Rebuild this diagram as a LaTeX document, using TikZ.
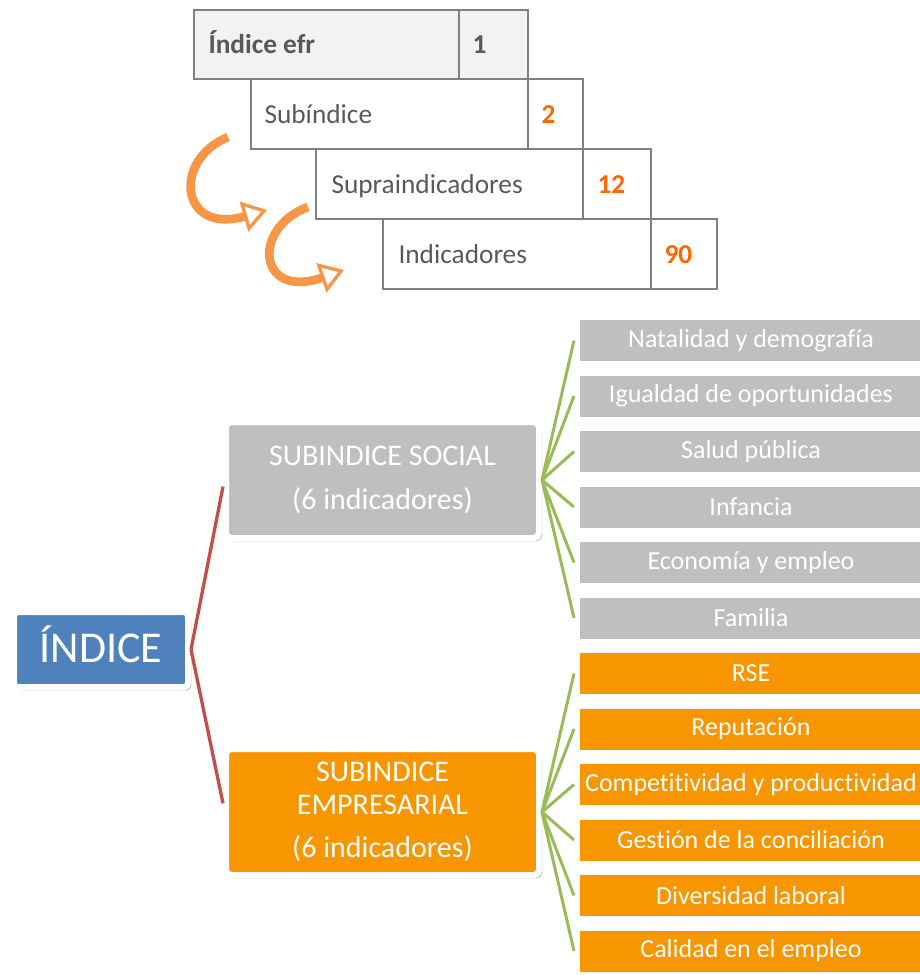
\documentclass[tikz,border=0pt]{standalone}
\usepackage{fontspec}
\setmainfont{Carlito}[Ligatures=NoCommon]
\usetikzlibrary{arrows.meta,shadows}

\definecolor{gridgray}{RGB}{128,128,128}
\definecolor{headfill}{RGB}{242,242,242}
\definecolor{labelgray}{RGB}{89,89,89}
\definecolor{numorange}{RGB}{255,102,0}
\definecolor{arroworange}{RGB}{247,150,70}
\definecolor{boxgray}{RGB}{191,191,191}
\definecolor{boxorange}{RGB}{247,150,0}
\definecolor{boxblue}{RGB}{79,129,189}
\definecolor{linkred}{RGB}{192,80,77}
\definecolor{linkgreen}{RGB}{155,187,89}

\tikzset{every picture/.style={line width=0.75pt}}
\tikzset{
  tbltext/.style={anchor=base west, inner sep=0pt, text=labelgray, font=\fontsize{20.5}{24}\selectfont},
  tblnum/.style={tbltext, text=numorange, font=\fontsize{20.5}{24}\selectfont\bfseries},
  framed/.style={draw=white, line width=4.5pt, drop shadow={shadow xshift=2.5pt, shadow yshift=-2.5pt, opacity=0.4}},
  leafgray/.style={framed, fill=boxgray, minimum width=261pt, minimum height=35.25pt, inner sep=0pt, text=white, font=\fontsize{19.5}{22}\selectfont},
  leaforange/.style={leafgray, fill=boxorange},
  subbox/.style={framed, rounded corners=4pt, minimum width=234.75pt, inner sep=0pt, align=center, text=white, font=\fontsize{22.5}{24.75}\selectfont},
  curvearrow/.style={arroworange, line width=6.5pt, -{Triangle[open, length=18pt, width=23pt, line width=2.5pt]}},
}

\begin{document}
\begin{tikzpicture}[x=0.75pt,y=0.75pt,yscale=-1,xscale=1]
		\useasboundingbox (0,0) rectangle (920,975);
		\clip (0,0) rectangle (920,975);
		
		%Shape: Table rows
		\draw [gridgray, line width=1.5pt, fill=headfill] (194,10) rectangle (528,79);
		\draw [gridgray, line width=1.5pt] (459,10) -- (459,79);
		\draw [gridgray, line width=1.5pt] (251,79) rectangle (583,149);
		\draw [gridgray, line width=1.5pt] (528,79) -- (528,149);
		\draw [gridgray, line width=1.5pt] (316,149) rectangle (651,219);
		\draw [gridgray, line width=1.5pt] (583,149) -- (583,219);
		\draw [gridgray, line width=1.5pt] (383,219) rectangle (717,289);
		\draw [gridgray, line width=1.5pt] (651,219) -- (651,289);
		
		\draw (208,53.5) node (efr) [tbltext, font=\fontsize{20.5}{24}\selectfont\bfseries] {Índice efr};
		\draw (472,53.5) node (efrnum) [tbltext, font=\fontsize{20.5}{24}\selectfont\bfseries] {1};
		\draw (264,123) node (subidx) [tbltext] {Subíndice};
		\draw (541,123) node (subidxnum) [tblnum] {2};
		\draw (331,193) node (supra) [tbltext] {Supraindicadores};
		\draw (597,193) node (supranum) [tblnum] {12};
		\draw (398,263) node (indic) [tbltext] {Indicadores};
		\draw (664,263) node (indicnum) [tblnum] {90};
		
		%Shape: Curved arrows
		\draw [curvearrow] (228,137) .. controls (172,160) and (180,235) .. (267,210) ;
		\draw [curvearrow] (308,207) .. controls (251,228) and (258,300) .. (344,270) ;
		
		%Shape: Root and subindices
		\draw (101,649.5) node (indice) [framed, fill=boxblue, rounded corners=3pt, minimum width=130.5pt, minimum height=56.25pt, inner sep=0pt, text=white, font=\fontsize{33}{36}\selectfont] {\raisebox{7.5pt}{ÍNDICE}};
		\draw (382.5,480) node (subsoc) [subbox, fill=boxgray, minimum height=87pt] {SUBINDICE SOCIAL\\[8pt](6 indicadores)};
		\draw (382.5,812) node (subemp) [subbox, fill=boxorange, minimum height=94.5pt] {SUBINDICE\\EMPRESARIAL\\[8pt](6 indicadores)};
		
		%Shape: Indicators
		\draw (751,340.5) node (natalidad) [leafgray] {Natalidad y demografía};
		\draw (751,396) node (igualdad) [leafgray] {Igualdad de oportunidades};
		\draw (751,451.5) node (salud) [leafgray] {Salud pública};
		\draw (751,507) node (infancia) [leafgray] {Infancia};
		\draw (751,562.5) node (economia) [leafgray] {Economía y empleo};
		\draw (751,618) node (familia) [leafgray] {Familia};
		\draw (751,673.5) node (rse) [leaforange] {RSE};
		\draw (751,729) node (reputacion) [leaforange] {Reputación};
		\draw (751,784.5) node (competitividad) [leaforange] {Competitividad y productividad};
		\draw (751,840) node (gestion) [leaforange] {Gestión de la conciliación};
		\draw (751,895.5) node (diversidad) [leaforange] {Diversidad laboral};
		\draw (751,951) node (calidad) [leaforange] {Calidad en el empleo};
		
		%Links
		\draw [linkred, line width=2.5pt] (indice.east) -- ([yshift=5pt]subsoc.west) ;
		\draw [linkred, line width=2.5pt] (indice.east) -- ([yshift=-6.5pt]subemp.west) ;
		
		\draw [linkgreen, line width=2.25pt] (subsoc.east) -- (natalidad.west) ;
		\draw [linkgreen, line width=2.25pt] (subsoc.east) -- (igualdad.west) ;
		\draw [linkgreen, line width=2.25pt] (subsoc.east) -- (salud.west) ;
		\draw [linkgreen, line width=2.25pt] (subsoc.east) -- (infancia.west) ;
		\draw [linkgreen, line width=2.25pt] (subsoc.east) -- (economia.west) ;
		\draw [linkgreen, line width=2.25pt] (subsoc.east) -- (familia.west) ;
		\draw [linkgreen, line width=2.25pt] (subemp.east) -- (rse.west) ;
		\draw [linkgreen, line width=2.25pt] (subemp.east) -- (reputacion.west) ;
		\draw [linkgreen, line width=2.25pt] (subemp.east) -- (competitividad.west) ;
		\draw [linkgreen, line width=2.25pt] (subemp.east) -- (gestion.west) ;
		\draw [linkgreen, line width=2.25pt] (subemp.east) -- (diversidad.west) ;
		\draw [linkgreen, line width=2.25pt] (subemp.east) -- (calidad.west) ;
		
	\end{tikzpicture}
\end{document}
